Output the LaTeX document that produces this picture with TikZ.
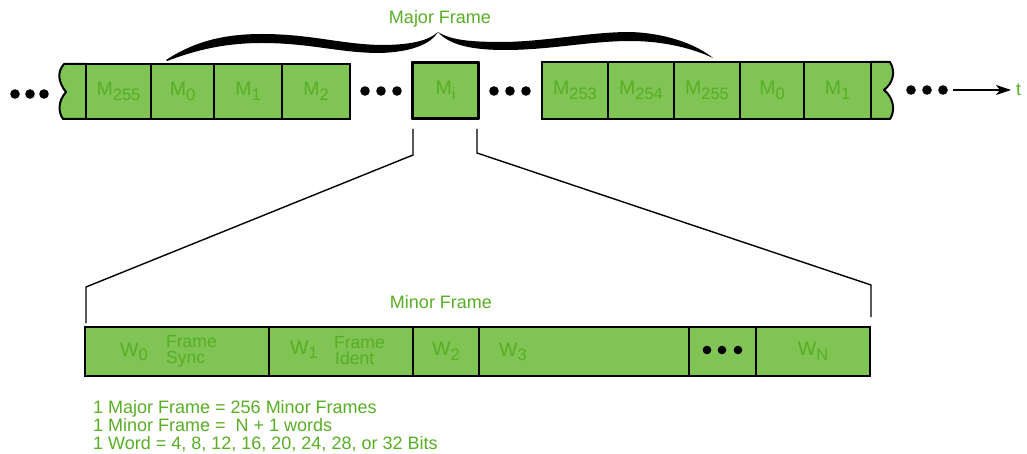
\documentclass[tikz,border=0pt]{standalone}
\usepackage{fontspec}
\setmainfont{Liberation Sans}
\usetikzlibrary{arrows.meta}
\definecolor{cellfill}{RGB}{127,196,84}
\definecolor{labelgreen}{RGB}{88,174,36}
% lowered index used in the cell labels
\newcommand\lowidx[1]{\raisebox{-4.5pt}{\fontsize{16.5}{17}\selectfont #1}}
\begin{document}
\begin{tikzpicture}[x=1pt,y=-1pt,
  cell/.style={draw=black, line width=1.2pt, fill=cellfill, inner sep=0pt,
    font=\fontsize{19.5}{21}\selectfont, text=labelgreen},
  topcell/.style={cell, minimum height=55},
  lowcell/.style={cell, minimum height=49},
  outline/.style={draw=black, line width=2pt, line join=round},
  wave/.style={fill=cellfill, draw=black, line width=2pt, line join=round},
  lead/.style={draw=black, line width=1.4pt, line join=miter},
  label/.style={text=labelgreen, font=\fontsize{18}{20}\selectfont, inner sep=0pt},
  note/.style={label, anchor=base west},
  dot/.style={fill=black},
  bracefill/.style={fill=black}]
\useasboundingbox (0,0) rectangle (1027,454);

% ---- left run of minor frames ----
\draw[wave] (86,64) -- (64,64) .. controls (57,72) and (58,82) .. (66,92)
  .. controls (58,101) and (58,112) .. (63,119) -- (86,119);
\node[topcell, minimum width=65] (ma255) at (118.5,91.5) {M\lowidx{255}};
\node[topcell, minimum width=63] (ma0) at (182.5,91.5) {M\lowidx{0}};
\node[topcell, minimum width=68] (ma1) at (248,91.5) {M\lowidx{1}};
\node[topcell, minimum width=68] (ma2) at (316,91.5) {M\lowidx{2}};
\draw[outline] (86,64) -- (350,64) -- (350,119) -- (86,119);

% ---- the i-th minor frame ----
\node[topcell, minimum width=65] (mi) at (445.5,90.5) {M\lowidx{i}};
\draw[outline] (mi.south west) rectangle (mi.north east);

% ---- right run of minor frames ----
\draw[wave] (871,62) -- (890,62) .. controls (896,72) and (893,83) .. (884,90)
  .. controls (893,97) and (896,110) .. (890,119) -- (871,119);
\node[topcell, minimum width=66, minimum height=57] (mb253) at (575,90.5) {M\lowidx{253}};
\node[topcell, minimum width=66, minimum height=57] (mb254) at (641,90.5) {M\lowidx{254}};
\node[topcell, minimum width=66, minimum height=57] (mb255) at (707,90.5) {M\lowidx{255}};
\node[topcell, minimum width=64, minimum height=57] (mb0) at (772,90.5) {M\lowidx{0}};
\node[topcell, minimum width=67, minimum height=57] (mb1) at (837.5,90.5) {M\lowidx{1}};
\draw[outline] (871,62) -- (542,62) -- (542,119) -- (871,119);

% ---- ellipses on the time line ----
\foreach \x in {15,30,44} \fill[dot] (\x,94) circle (4.8);
\foreach \x in {365,381,397} \fill[dot] (\x,91) circle (4.8);
\foreach \x in {494,510,526} \fill[dot] (\x,91) circle (4.8);
\foreach \x in {911,927,943} \fill[dot] (\x,90) circle (4.8);

% ---- time axis ----
\coordinate (tstart) at (953,90);
\node[label, anchor=west] (t) at (1016,90) {t};
\draw[line width=1.5pt, -{Stealth[length=15pt,width=10pt,inset=4pt]}, shorten >=5pt] (tstart) -- (t.west);

% ---- major frame brace ----
\fill[bracefill] (166,60) .. controls (195,41) and (225,34) .. (262,34)
  .. controls (310,34) and (340,44) .. (380,45)
  .. controls (410,45) and (428,41) .. (438,32)
  .. controls (430,45) and (410,52) .. (380,53)
  .. controls (340,53) and (310,43) .. (262,43)
  .. controls (225,43) and (196,50) .. (167,61) -- cycle;
\fill[bracefill] (438,32) .. controls (452,41) and (475,42) .. (505,42)
  .. controls (550,41) and (590,32) .. (630,32)
  .. controls (665,33) and (696,44) .. (713,58)
  .. controls (694,49) and (665,41) .. (630,41)
  .. controls (590,41) and (550,50) .. (505,50)
  .. controls (475,50) and (450,46) .. (438,32) -- cycle;
\node[label] (major) at (440,19) {Major Frame};

% ---- expansion lines to the minor frame ----
\coordinate (la) at (413,129);
\coordinate (lb) at (413,155);
\coordinate (lc) at (86,287);
\coordinate (ld) at (86,323);
\coordinate (ra) at (477,129);
\coordinate (rb) at (477,153);
\coordinate (rc) at (871,285);
\coordinate (rd) at (871,317);
\draw[lead] (la) -- (lb) -- (lc) -- (ld);
\draw[lead] (ra) -- (rb) -- (rc) -- (rd);

% ---- minor frame ----
\node[label, anchor=base] (minor) at (441,308) {Minor Frame};
\node[lowcell, minimum width=184] (w0) at (177,351.5) {};
\node[lowcell, minimum width=144] (w1) at (341,351.5) {};
\node[lowcell, minimum width=66] (w2) at (446,351.5) {W\lowidx{2}};
\node[lowcell, minimum width=210] (w3) at (584,351.5) {};
\node[lowcell, minimum width=67] (wdots) at (722.5,351.5) {};
\node[lowcell, minimum width=114] (wn) at (813,351.5) {W\lowidx{N}};
\draw[outline] (85,327) rectangle (870,376);

\node[label, font=\fontsize{19.5}{21}\selectfont] (w0l) at (134,352) {W\lowidx{0}};
\node[label, align=left, anchor=west, font=\fontsize{17.5}{16}\selectfont] (w0t) at (166,351) {Frame\\Sync};
\node[label, font=\fontsize{19.5}{21}\selectfont] (w1l) at (304,350) {W\lowidx{1}};
\node[label, align=left, anchor=west, font=\fontsize{17.5}{16}\selectfont] (w1t) at (334,351) {Frame\\\hspace{1pt}Ident};
\node[label, font=\fontsize{19.5}{21}\selectfont] (w3l) at (513,352) {W\lowidx{3}};
\foreach \x in {707,722,738} \fill[dot] (\x,350) circle (4.3);

% ---- definitions ----
\node[note] (n1) at (93,413) {1 Major Frame = 256 Minor Frames};
\node[note] (n2) at (93,431) {1 Minor Frame = \ N + 1 words};
\node[note] (n3) at (93,449) {1 Word = 4, 8, 12, 16, 20, 24, 28, or 32 Bits};
\end{tikzpicture}
\end{document}
